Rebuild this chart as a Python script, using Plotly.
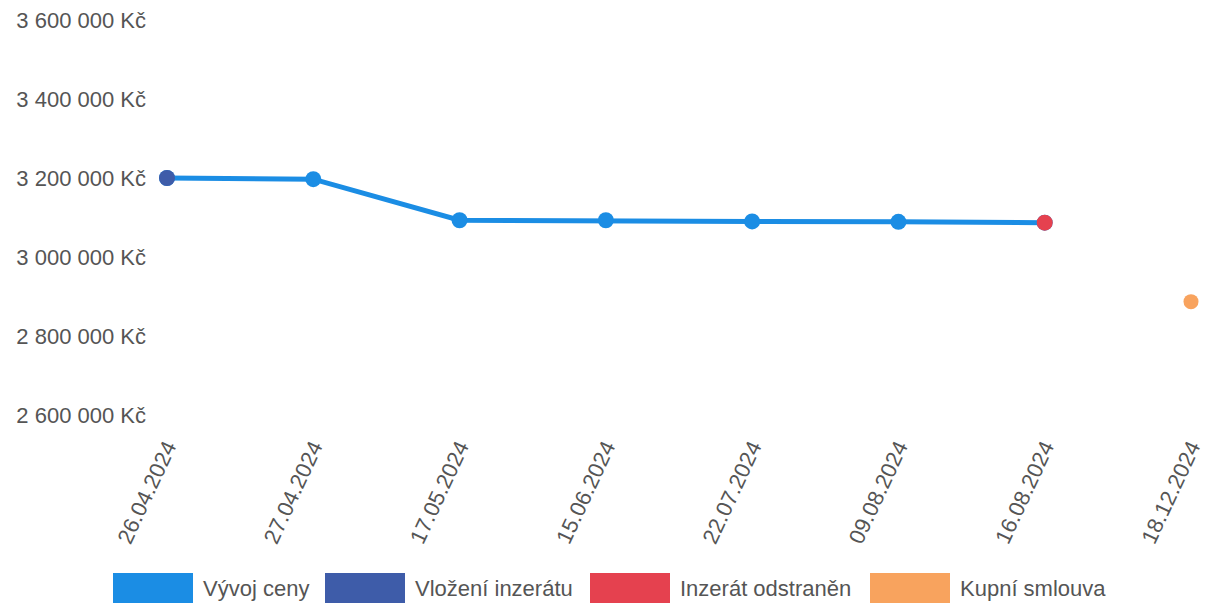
import plotly.graph_objects as go

# ---- data ----
dates = ["26.04.2024", "27.04.2024", "17.05.2024", "15.06.2024",
         "22.07.2024", "09.08.2024", "16.08.2024", "18.12.2024"]
price_dates = dates[:7]
price_values = [3200000, 3197000, 3093000, 3093000, 3090000, 3089000, 3087000]
listing_added_date = ["26.04.2024"]
listing_added_value = [3200000]
listing_removed_date = ["16.08.2024"]
listing_removed_value = [3087000]
contract_date = ["18.12.2024"]
contract_value = [2887000]

y_tickvals = [2600000, 2800000, 3000000, 3200000, 3400000, 3600000]
y_ticktext = ["2 600 000 Kč", "2 800 000 Kč", "3 000 000 Kč",
              "3 200 000 Kč", "3 400 000 Kč", "3 600 000 Kč"]

legend_names = ["Vývoj ceny", "Vložení inzerátu", "Inzerát odstraněn", "Kupní smlouva"]
legend_colors = ["#1b8de4", "#3e5ca9", "#e5414f", "#f8a35e"]

# ---- figure (page body has an 8px margin, so figure is offset) ----
OFFX, OFFY = 8, 8
W, H = 1212 - OFFX, 608 - OFFY
ML, MR, MT, MB = 167 - OFFX, 21, 20 - OFFY, 608 - 415
PW, PH = W - ML - MR, H - MT - MB
FONT = "Liberation Sans, Arial, sans-serif"
TXT = "#555555"
FS = 22

fig = go.Figure()
fig.add_trace(go.Scatter(
    x=price_dates, y=price_values, mode="lines+markers", name=legend_names[0],
    line=dict(color=legend_colors[0], width=5),
    marker=dict(size=16, color=legend_colors[0]), cliponaxis=False, showlegend=False))
fig.add_trace(go.Scatter(
    x=listing_added_date, y=listing_added_value, mode="markers", name=legend_names[1],
    marker=dict(size=16, color=legend_colors[1]), cliponaxis=False, showlegend=False))
fig.add_trace(go.Scatter(
    x=listing_removed_date, y=listing_removed_value, mode="markers", name=legend_names[2],
    marker=dict(size=16, color=legend_colors[2]), cliponaxis=False, showlegend=False))
fig.add_trace(go.Scatter(
    x=contract_date, y=contract_value, mode="markers", name=legend_names[3],
    marker=dict(size=15, color=legend_colors[3]), cliponaxis=False, showlegend=False))

# custom legend (boxes + labels) below the axis, page pixel positions
legend_box_x = [113, 325, 590, 870]
def px_x(p):
    return (p - OFFX - ML) / PW
def px_y(p):
    return (MT + PH - (p - OFFY)) / PH

shapes, annotations = [], []
for name, color, bx in zip(legend_names, legend_colors, legend_box_x):
    shapes.append(dict(type="rect", xref="paper", yref="paper",
                       x0=px_x(bx), x1=px_x(bx + 80), y0=px_y(603), y1=px_y(573),
                       fillcolor=color, line=dict(width=0), layer="above"))
    annotations.append(dict(xref="paper", yref="paper",
                            x=px_x(bx + 88), y=px_y(588),
                            text=name, showarrow=False, xanchor="left", yanchor="middle",
                            font=dict(family=FONT, size=FS, color=TXT)))

fig.update_layout(
    width=W, height=H,
    margin=dict(l=ML, r=MR, t=MT, b=MB, pad=0, autoexpand=False),
    paper_bgcolor="white", plot_bgcolor="white",
    font=dict(family=FONT, size=FS, color=TXT),
    shapes=shapes, annotations=annotations,
    showlegend=False,
    xaxis=dict(type="category", categoryorder="array", categoryarray=dates,
               range=[0, 7], showgrid=False, zeroline=False, showline=False,
               tickangle=-65, ticks="", ticklabelstandoff=14, automargin=False,
               tickfont=dict(family=FONT, size=FS, color=TXT)),
    yaxis=dict(range=[2600000, 3600000], tickvals=y_tickvals, ticktext=y_ticktext,
               showgrid=False, zeroline=False, showline=False, ticks="",
               ticklabelstandoff=20, ticklabeloverflow="allow", automargin=False,
               tickfont=dict(family=FONT, size=FS, color=TXT)),
)

fig.write_html("out.html")
